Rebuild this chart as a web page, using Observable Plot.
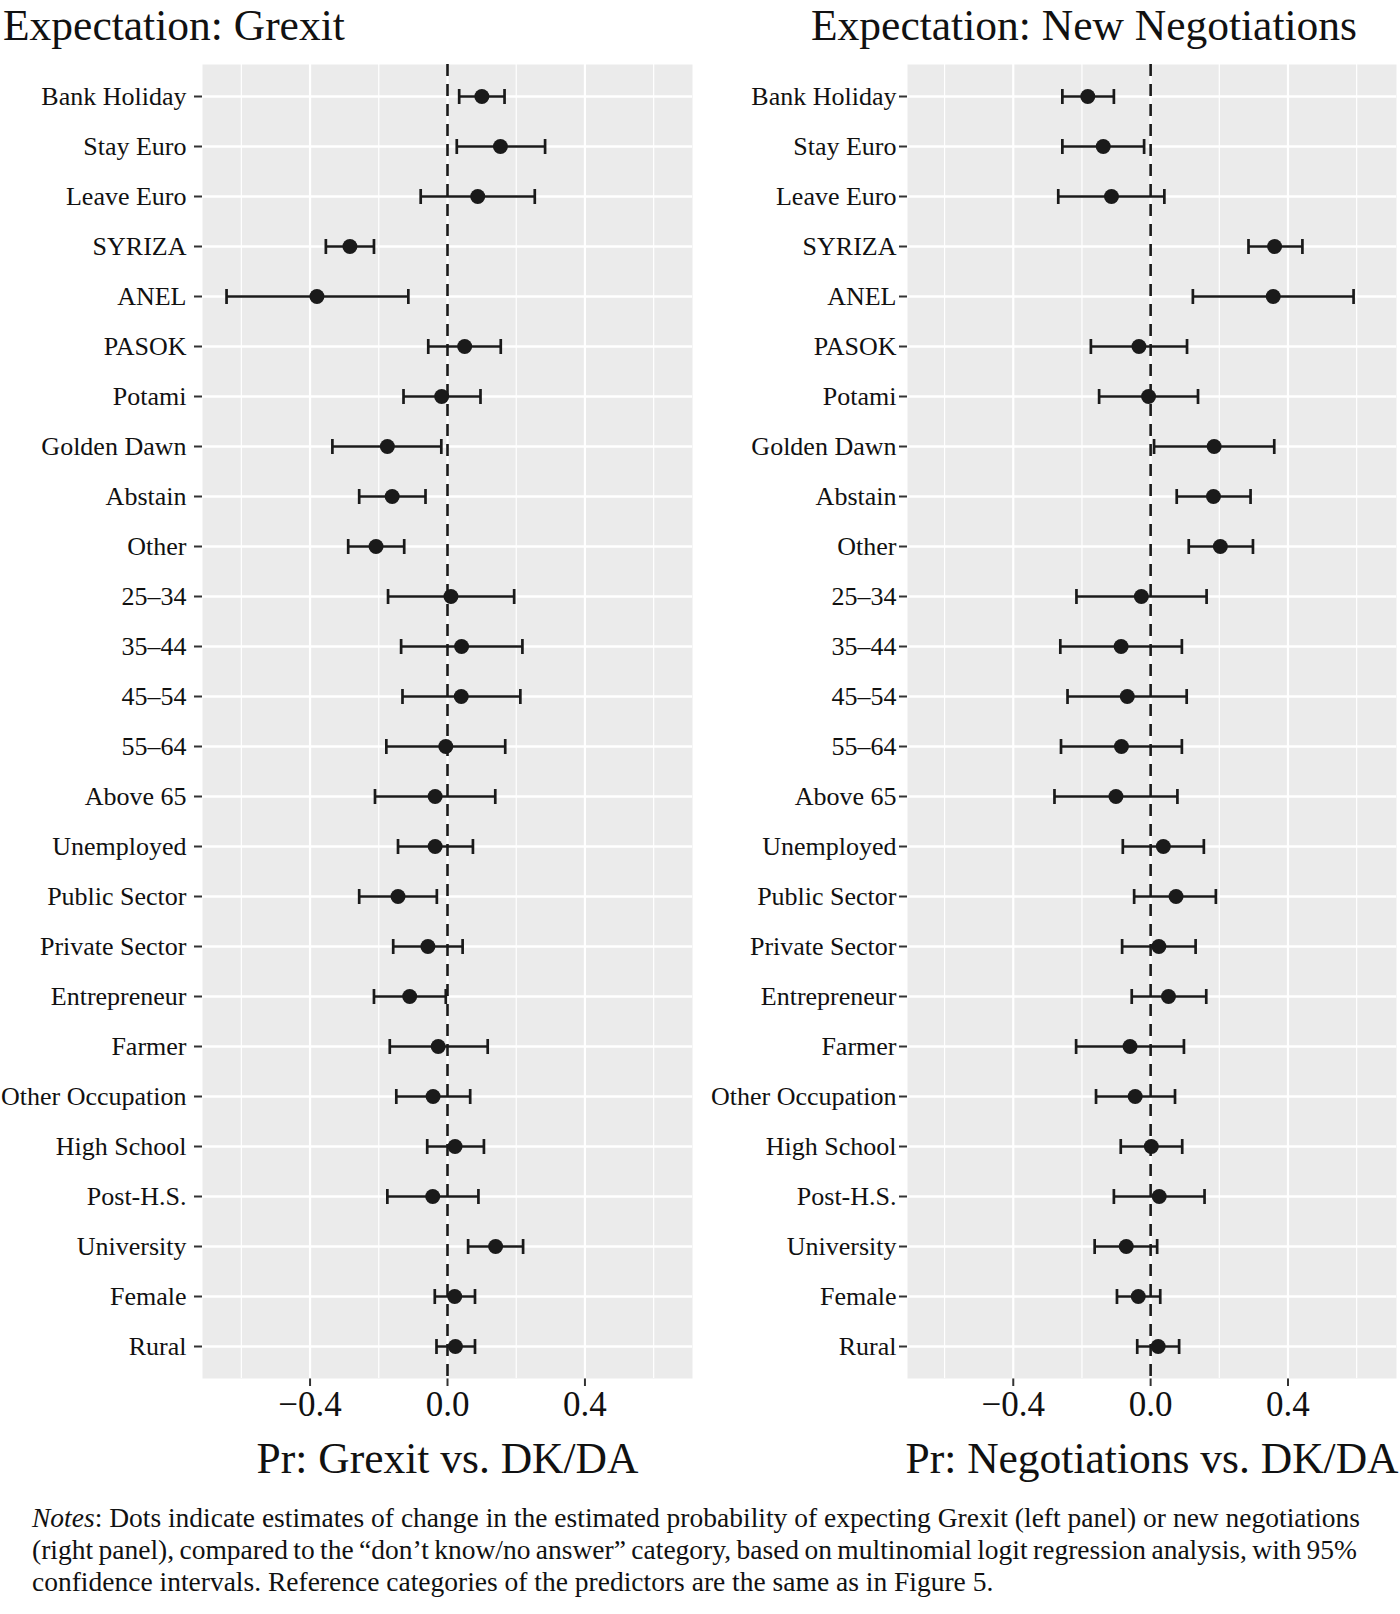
<!DOCTYPE html>
<html><head><meta charset="utf-8">
<script src="https://cdn.jsdelivr.net/npm/d3@7"></script>
<script src="https://cdn.jsdelivr.net/npm/@observablehq/plot@0.6"></script>
<style>
body{margin:0;background:#fff;}
#root{position:relative;width:1400px;height:1614px;font-family:"Liberation Serif","Times New Roman",serif;color:#111;overflow:hidden;}
.title{position:absolute;top:0px;font-size:43.5px;line-height:normal;white-space:nowrap;}
.panel{position:absolute;top:54px;}
.panel svg{overflow:visible;}
.notes{position:absolute;left:32px;top:1502px;font-size:27.5px;line-height:32px;}
.notes div{white-space:nowrap;}
.notes .j{width:1325px;text-align:justify;text-align-last:justify;}
.panel svg [aria-label^="y-axis"] text{font-size:26px;}
.panel svg [aria-label^="x-axis"] text{font-size:35px;}
</style></head>
<body><div id="root">
<div class="title" style="left:3px">Expectation: Grexit</div>
<div class="title" style="left:811px">Expectation: New Negotiations</div>
<div class="panel" id="left" style="left:0px"></div>
<div class="panel" id="right" style="left:700px"></div>
<div class="notes">
<div class="j"><i>Notes</i>: Dots indicate estimates of change in the estimated probability of expecting Grexit (left panel) or new negotiations</div>
<div class="j" style="word-spacing:-1.5px">(right panel), compared to the “don’t know/no answer” category, based on multinomial logit regression analysis, with 95%</div>
<div>confidence intervals. Reference categories of the predictors are the same as in Figure 5.</div>
</div>
</div>
<script>
const categories = ["Bank Holiday","Stay Euro","Leave Euro","SYRIZA","ANEL","PASOK","Potami","Golden Dawn","Abstain","Other","25–34","35–44","45–54","55–64","Above 65","Unemployed","Public Sector","Private Sector","Entrepreneur","Farmer","Other Occupation","High School","Post-H.S.","University","Female","Rural"];

const grexitEst = [0.100, 0.154, 0.088, -0.284, -0.380, 0.050, -0.017, -0.175, -0.161, -0.208, 0.010, 0.041, 0.040, -0.005, -0.036, -0.036, -0.144, -0.057, -0.110, -0.027, -0.042, 0.022, -0.043, 0.140, 0.021, 0.023];
const grexitLo  = [0.034, 0.027, -0.078, -0.354, -0.643, -0.056, -0.128, -0.335, -0.257, -0.289, -0.173, -0.135, -0.131, -0.178, -0.211, -0.144, -0.257, -0.158, -0.214, -0.168, -0.149, -0.059, -0.175, 0.060, -0.037, -0.032];
const grexitHi  = [0.166, 0.284, 0.254, -0.214, -0.114, 0.155, 0.096, -0.018, -0.064, -0.126, 0.194, 0.218, 0.212, 0.168, 0.139, 0.074, -0.031, 0.044, -0.005, 0.117, 0.066, 0.106, 0.090, 0.220, 0.080, 0.080];

const negEst = [-0.183, -0.138, -0.114, 0.361, 0.357, -0.034, -0.006, 0.185, 0.183, 0.203, -0.027, -0.086, -0.068, -0.085, -0.101, 0.037, 0.074, 0.024, 0.052, -0.060, -0.045, 0.002, 0.025, -0.071, -0.036, 0.022];
const negLo  = [-0.257, -0.257, -0.269, 0.285, 0.123, -0.174, -0.150, 0.010, 0.076, 0.111, -0.216, -0.263, -0.242, -0.261, -0.280, -0.081, -0.048, -0.083, -0.055, -0.217, -0.159, -0.087, -0.107, -0.163, -0.098, -0.039];
const negHi  = [-0.107, -0.019, 0.040, 0.442, 0.591, 0.106, 0.138, 0.360, 0.291, 0.298, 0.163, 0.091, 0.105, 0.091, 0.078, 0.155, 0.190, 0.131, 0.162, 0.097, 0.071, 0.092, 0.157, 0.019, 0.028, 0.083];

const majorTicks = [-0.4, 0, 0.4];
const minorTicks = [-0.6, -0.2, 0.2, 0.6];

const capSymbol = {draw(ctx, size) { const r = Math.sqrt(size / Math.PI); ctx.moveTo(0, -r); ctx.lineTo(0, r); }};

function panel({est, lo, hi, domain, label, marginLeft, marginRight, tickPadding}) {
  const rows = categories.map((cat, i) => ({cat, est: est[i], lo: lo[i], hi: hi[i]}));
  const ink = "#1a1a1a";
  const svg = Plot.plot({
    width: 700,
    height: 1434,
    marginLeft, marginRight,
    marginTop: 10,
    marginBottom: 110,
    style: {fontFamily: '"Liberation Serif","Times New Roman",serif', color: "#111", background: "transparent", overflow: "visible"},
    x: {domain, ticks: majorTicks, tickFormat: d3.format(".1f"), tickSize: 8, tickPadding: 5, label, labelAnchor: "center", labelArrow: "none", labelOffset: 94},
    y: {type: "point", domain: categories, padding: 0.567, label: null, tickSize: 8, tickPadding},
    marks: [
      Plot.frame({fill: "#EBEBEB", stroke: null}),
      Plot.ruleX(minorTicks, {stroke: "white", strokeWidth: 1.2}),
      Plot.ruleX(majorTicks, {stroke: "white", strokeWidth: 2.2}),
      Plot.ruleY(categories, {stroke: "white", strokeWidth: 2.4}),
      Plot.ruleX([0], {stroke: ink, strokeWidth: 2.6, strokeDasharray: "12,8"}),
      Plot.ruleY(rows, {y: "cat", x1: "lo", x2: "hi", stroke: ink, strokeWidth: 2.7}),
      Plot.dot(rows, {x: "lo", y: "cat", symbol: capSymbol, r: 7.5, stroke: ink, strokeWidth: 2.7, fill: "none"}),
      Plot.dot(rows, {x: "hi", y: "cat", symbol: capSymbol, r: 7.5, stroke: ink, strokeWidth: 2.7, fill: "none"}),
      Plot.dot(rows, {x: "est", y: "cat", r: 7.5, fill: ink, stroke: null})
    ]
  });
  svg.querySelectorAll("text").forEach(t => {
    if (t.textContent.startsWith("Pr:")) t.style.fontSize = "43.5px";
  });
  svg.querySelectorAll('[aria-label^="y-axis"] line, [aria-label^="y-axis"] path, [aria-label^="x-axis"] line, [aria-label^="x-axis"] path').forEach(l => {
    l.setAttribute("stroke", "#333"); l.setAttribute("stroke-width", "2");
  });
  return svg;
}

document.getElementById("left").appendChild(panel({est: grexitEst, lo: grexitLo, hi: grexitHi, domain: [-0.713, 0.713], label: "Pr: Grexit vs. DK/DA", marginLeft: 202, marginRight: 8, tickPadding: 8}));
document.getElementById("right").appendChild(panel({est: negEst, lo: negLo, hi: negHi, domain: [-0.708, 0.716], label: "Pr: Negotiations vs. DK/DA", marginLeft: 207, marginRight: 4, tickPadding: 3}));
</script>
</body></html>
